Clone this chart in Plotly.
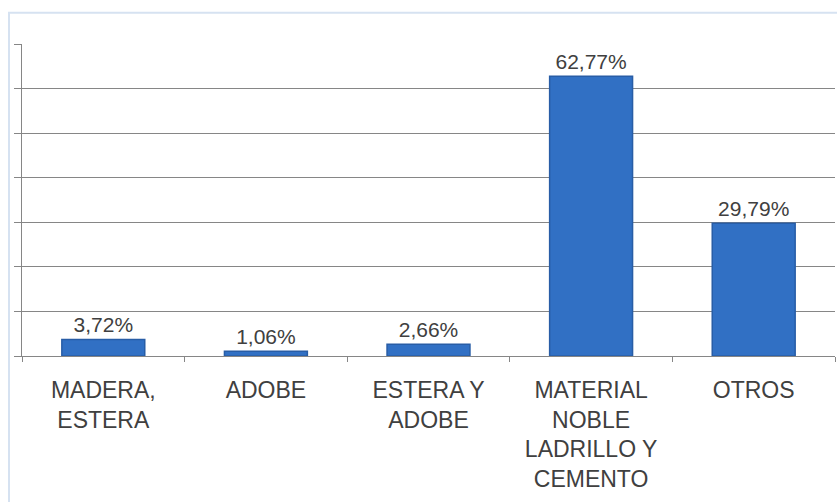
import plotly.graph_objects as go

categories = ["MADERA,<br>ESTERA", "ADOBE", "ESTERA Y<br>ADOBE",
              "MATERIAL<br>NOBLE<br>LADRILLO Y<br>CEMENTO", "OTROS"]
values = [3.72, 1.06, 2.66, 62.77, 29.79]
labels = [f"{v:.2f}%".replace(".", ",") for v in values]

FONT = "Liberation Sans, Arial, sans-serif"
TEXT_COLOR = "#404040"

fig = go.Figure(
    go.Bar(
        x=categories,
        y=values,
        text=labels,
        textposition="outside",
        cliponaxis=False,
        textfont=dict(family=FONT, size=21, color=TEXT_COLOR),
        marker=dict(color="#3170C4", line=dict(color="#285DA6", width=1.5)),
        width=0.51,
    )
)

fig.update_layout(
    width=837,
    height=502,
    margin=dict(l=22, r=2, t=44, b=146),
    paper_bgcolor="white",
    plot_bgcolor="white",
    showlegend=False,
    shapes=[
        # light frame around the chart area
        dict(type="rect", xref="paper", yref="paper",
             x0=-0.016, x1=1.05, y0=-0.6, y1=1.1,
             line=dict(color="#D6E2F1", width=2), fillcolor="rgba(0,0,0,0)",
             layer="below"),
    ],
)

fig.update_xaxes(
    showline=True, linecolor="#868686", linewidth=1,
    ticks="outside", ticklen=5, tickcolor="#868686", tickson="boundaries",
    tickfont=dict(family=FONT, size=23, color=TEXT_COLOR),
    ticklabelstandoff=13,
    showgrid=False,
)
fig.update_yaxes(
    range=[0, 70], dtick=10, showticklabels=False,
    showline=True, linecolor="#868686", linewidth=1,
    ticks="outside", ticklen=7, tickcolor="#868686",
    showgrid=True, gridcolor="#868686", gridwidth=1,
    zeroline=False,
)

fig.write_html("out.html")
